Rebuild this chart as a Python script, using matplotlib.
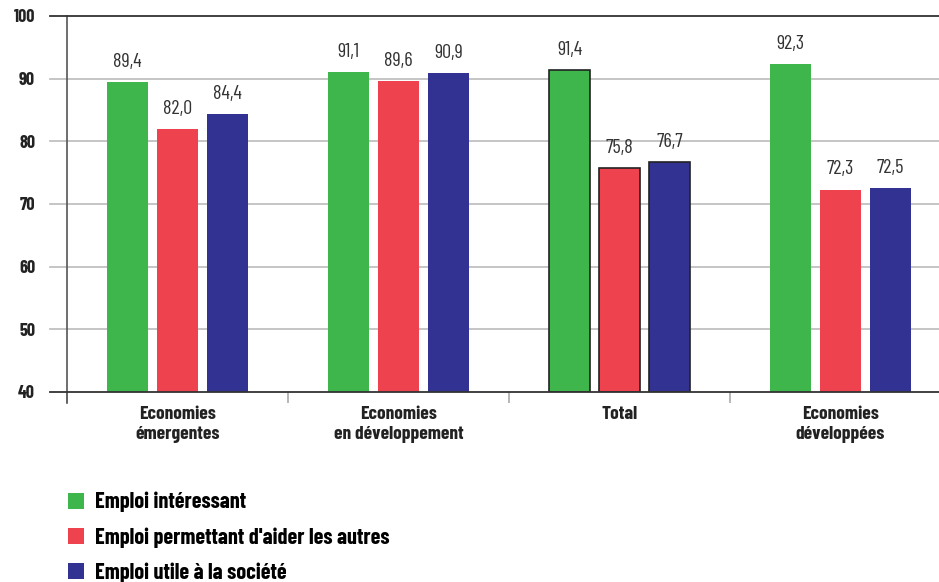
import numpy as np
import matplotlib.pyplot as plt
from matplotlib.patches import Patch

# Données
categories = ['Economies\némergentes', 'Economies\nen développement', 'Total', 'Economies\ndéveloppées']
series_names = ['Emploi intéressant', "Emploi permettant d'aider les autres", 'Emploi utile à la société']
interessant = [89.4, 91.1, 91.4, 92.3]
aider = [82.0, 89.6, 75.8, 72.3]
utile = [84.4, 90.9, 76.7, 72.5]
y_ticks = [40, 50, 60, 70, 80, 90, 100]

colors = ['#3fb64b', '#ef424f', '#323292']

plt.rcParams['font.family'] = ['Barlow Condensed', 'PT Sans Narrow', 'DejaVu Sans']
BOLD = 700

fig = plt.figure(figsize=(9.39, 5.82), dpi=100)
W, H = 939, 582
ax = fig.add_axes([67 / W, (582 - 392) / H, (951 - 67) / W, 376 / H])

x = np.arange(len(categories))
width = 0.186
offset = 0.226
for i, (vals, col) in enumerate(zip([interessant, aider, utile], colors)):
    pos = x + (i - 1) * offset
    bars = ax.bar(pos, [v - 40 for v in vals], width, bottom=40, color=col, zorder=3)
    # la colonne "Total" a un contour noir
    bars[2].set_edgecolor('#222222')
    bars[2].set_linewidth(1.2)
    for b, v in zip(bars, vals):
        ax.annotate(f'{v:.1f}'.replace('.', ','), (b.get_x() + b.get_width() / 2, v),
                    xytext=(0, 8), textcoords='offset points', ha='center', va='bottom',
                    fontsize=14.5, color='#333333')

ax.set_xlim(-0.5, 3.5)
ax.set_ylim(40, 100)
ax.set_yticks(y_ticks)
ax.set_yticklabels([str(t) for t in y_ticks], fontsize=13, fontweight=BOLD, color='#222222')
ax.tick_params(axis='y', length=0, pad=23)
# lignes horizontales qui dépassent à gauche de l'axe
ext = -17 / 884
for t in y_ticks:
    if t in (40, 100):
        ax.axhline(t, xmin=ext, xmax=1, color='#333333', lw=1.3, zorder=4, clip_on=False)
    else:
        ax.axhline(t, xmin=ext, xmax=1, color='#bbbbbb', lw=1.2, zorder=1, clip_on=False)

ax.set_xticks(x)
ax.set_xticklabels(categories, fontsize=14, fontweight=BOLD, color='#222222', linespacing=1.22)
ax.tick_params(axis='x', length=0, pad=10)
ax.set_xticks(np.arange(-0.5, 3.6, 1), minor=True)
ax.tick_params(axis='x', which='minor', length=8, width=1.2, color='#aaaaaa')

for s in ['right', 'top', 'bottom']:
    ax.spines[s].set_visible(False)
ax.spines['left'].set_color('#555555')
ax.spines['left'].set_linewidth(1.2)
ax.spines['left'].set_bounds(38.2, 100)
ax.spines['left'].set_clip_on(False)

handles = [Patch(facecolor=c, edgecolor='none') for c in colors]
fig.legend(handles, series_names, loc='upper left', bbox_to_anchor=(59 / W, 1 - 483 / H),
           frameon=False, prop={'size': 16, 'weight': BOLD}, handlelength=0.72, handleheight=0.72,
           handletextpad=0.5, labelspacing=0.66, borderaxespad=0)

plt.savefig('out.png', dpi=100)
